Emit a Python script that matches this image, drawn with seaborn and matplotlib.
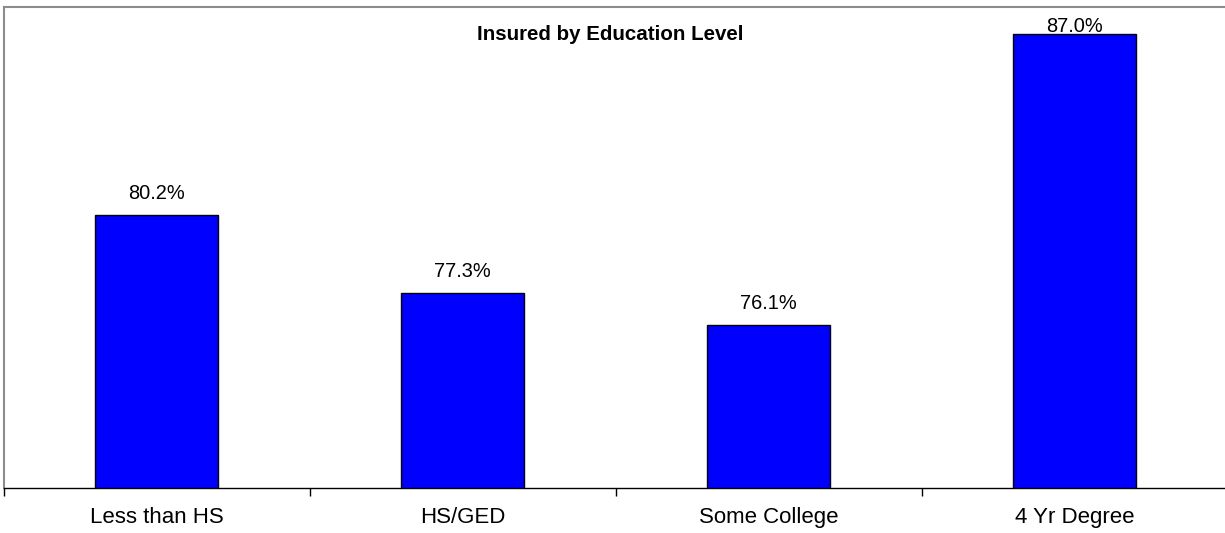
import numpy as np
import pandas as pd
import matplotlib
matplotlib.use("Agg")
import matplotlib.pyplot as plt
import seaborn as sns

# Share of adults with health insurance, by education level (%)
categories = ["Less than HS", "HS/GED", "Some College", "4 Yr Degree"]
insured_pct = [80.2, 77.3, 76.1, 87.0]
title_text = "Insured by Education Level"

sns.set_style("white")
plt.rcParams["font.family"] = ["Liberation Sans", "DejaVu Sans"]

df = pd.DataFrame({"Education": categories, "Insured": insured_pct})

W, H = 1225, 533
fig = plt.figure(figsize=(W / 100, H / 100), dpi=100)
fig.patch.set_facecolor("white")
# plot area: the right edge runs just past the canvas
ax = fig.add_axes([3.5 / W, 45 / H, 1224 / W, 481 / H])

sns.barplot(data=df, x="Education", y="Insured", color="#0000FF",
            saturation=1, edgecolor="black", linewidth=1, width=0.405, ax=ax)

y_lo, y_hi = 70, 88
ax.set_ylim(y_lo, y_hi)
ax.set_xlim(-0.5, len(categories) - 0.5)
ax.set_facecolor("white")

for side in ["left", "top", "right"]:
    ax.spines[side].set_color("#8c8c8c")
    ax.spines[side].set_linewidth(1.5)
ax.spines["bottom"].set_color("black")
ax.spines["bottom"].set_linewidth(1)

ax.set_yticks([])
ax.set_xlabel("")
ax.set_ylabel("")
ax.set_xticks(range(len(categories)))
ax.set_xticklabels(categories, fontsize=16, color="black")
ax.tick_params(axis="x", which="major", bottom=True, length=0, pad=14)
ax.set_xticks(np.arange(-0.5, len(categories), 1), minor=True)
ax.tick_params(axis="x", which="minor", bottom=True, length=6, width=1,
               color="black", direction="out")

# value labels above each bar, kept inside the plot frame
for i, v in enumerate(insured_pct):
    y = min(v + 0.6, y_hi - 0.94)
    ax.text(i, y, f"{v:.1f}%", ha="center", va="baseline", fontsize=14.4,
            color="black")

fig.text(610 / W, 1 - 35 / H, title_text, ha="center", va="center",
         fontsize=14.8, fontweight="bold", color="black")

fig.savefig("out.png", dpi=100)
